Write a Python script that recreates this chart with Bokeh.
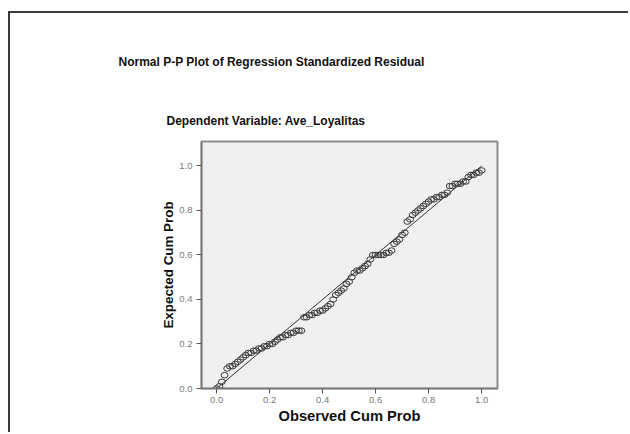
from bokeh.plotting import figure
from bokeh.models import Range1d, FixedTicker, Title
from bokeh.embed import file_html
from bokeh.resources import INLINE

observed = [0.00, 0.01, 0.02, 0.03, 0.04, 0.05, 0.06, 0.07, 0.08, 0.09,
            0.10, 0.11, 0.12, 0.13, 0.14, 0.15, 0.16, 0.17, 0.18, 0.19,
            0.20, 0.21, 0.22, 0.23, 0.24, 0.25, 0.26, 0.27, 0.28, 0.29,
            0.30, 0.31, 0.32, 0.33, 0.34, 0.35, 0.36, 0.37, 0.38, 0.39,
            0.40, 0.41, 0.42, 0.43, 0.44, 0.45, 0.46, 0.47, 0.48, 0.49,
            0.50, 0.51, 0.52, 0.53, 0.54, 0.55, 0.56, 0.57, 0.58, 0.59,
            0.60, 0.61, 0.62, 0.63, 0.64, 0.65, 0.66, 0.67, 0.68, 0.69,
            0.70, 0.71, 0.72, 0.73, 0.74, 0.75, 0.76, 0.77, 0.78, 0.79,
            0.80, 0.81, 0.82, 0.83, 0.84, 0.85, 0.86, 0.87, 0.88, 0.89,
            0.90, 0.91, 0.92, 0.93, 0.94, 0.95, 0.96, 0.97, 0.98, 0.99, 1.00]
expected = [0.00, 0.01, 0.03, 0.06, 0.09, 0.10, 0.10, 0.11, 0.12, 0.13,
            0.14, 0.15, 0.16, 0.16, 0.17, 0.17, 0.18, 0.18, 0.19, 0.19,
            0.20, 0.20, 0.21, 0.22, 0.23, 0.23, 0.24, 0.24, 0.25, 0.25,
            0.26, 0.26, 0.26, 0.32, 0.32, 0.33, 0.33, 0.34, 0.34, 0.35,
            0.35, 0.36, 0.37, 0.38, 0.40, 0.42, 0.43, 0.44, 0.45, 0.47,
            0.48, 0.50, 0.52, 0.53, 0.53, 0.54, 0.55, 0.56, 0.58, 0.60,
            0.60, 0.60, 0.60, 0.60, 0.61, 0.61, 0.62, 0.65, 0.66, 0.67,
            0.69, 0.70, 0.75, 0.76, 0.78, 0.79, 0.80, 0.81, 0.82, 0.83,
            0.84, 0.85, 0.85, 0.86, 0.86, 0.87, 0.87, 0.88, 0.91, 0.91,
            0.92, 0.92, 0.92, 0.93, 0.93, 0.95, 0.96, 0.96, 0.97, 0.97, 0.98]
diag = [0.0, 1.0]
ticks = [0.0, 0.2, 0.4, 0.6, 0.8, 1.0]
tick_labels = {0.0: "0.0", 0.2: "0.2", 0.4: "0.4", 0.6: "0.6", 0.8: "0.8", 1.0: "1.0"}
title_text = "Normal P-P Plot of Regression Standardized Residual"
subtitle_text = "Dependent Variable: Ave_Loyalitas"
x_label = "Observed Cum Prob"
y_label = "Expected Cum Prob"

FONT = "Liberation Sans"

# canvas origin is at page (10, 13) because of the margin + border below
p = figure(width=620, height=421, output_backend="svg", toolbar_location=None,
           x_range=Range1d(-0.057, 1.06), y_range=Range1d(0.0, 1.11),
           min_border_left=191, min_border_right=133, min_border_top=128,
           min_border_bottom=46)
p.styles = {"margin-left": "8px", "margin-top": "11px",
            "border-top": "2px solid #3a3a3a", "border-left": "2px solid #3a3a3a"}
p.background_fill_color = "#f0f0f0"
p.border_fill_color = "white"
p.outline_line_color = "#8c8c8c"
p.outline_line_width = 2
p.grid.visible = False

for ax in (p.xaxis[0], p.yaxis[0]):
    ax.ticker = FixedTicker(ticks=ticks)
    ax.major_label_overrides = tick_labels
    ax.minor_tick_line_color = None
    ax.major_tick_out = 5
    ax.major_tick_in = 0
    ax.major_tick_line_color = "#555555"
    ax.axis_line_color = "#777777"
    ax.axis_line_width = 1.5
    ax.major_label_text_font = FONT
    ax.major_label_text_font_size = "9.5px"
    ax.major_label_text_color = "#7a7a7a"
    ax.axis_label_text_font = FONT
    ax.axis_label_text_font_style = "bold"
    ax.axis_label_text_color = "#111111"

p.xaxis[0].axis_label = x_label
p.xaxis[0].axis_label_text_font_size = "14.7px"
p.xaxis[0].axis_label_standoff = 2
p.xaxis[0].major_label_standoff = 3
p.yaxis[0].axis_label = y_label
p.yaxis[0].axis_label_text_font_size = "13.4px"
p.yaxis[0].axis_label_standoff = 0
p.yaxis[0].major_label_standoff = 4

p.line(diag, diag, line_color="#333333", line_width=1)
p.ellipse(observed, expected, width=7, height=5.5, width_units="screen",
          height_units="screen", fill_color=None, line_color="#3a3a3a", line_width=1)

p.add_layout(Title(text=subtitle_text, align="left", offset=-35, standoff=28,
                   text_font=FONT, text_font_style="bold", text_font_size="12px",
                   text_color="#111111"), "above")
p.add_layout(Title(text=title_text, align="left", offset=-83, standoff=58,
                   text_font=FONT, text_font_style="bold", text_font_size="12px",
                   text_color="#111111"), "above")

open("out.html", "w").write(file_html(p, INLINE))
